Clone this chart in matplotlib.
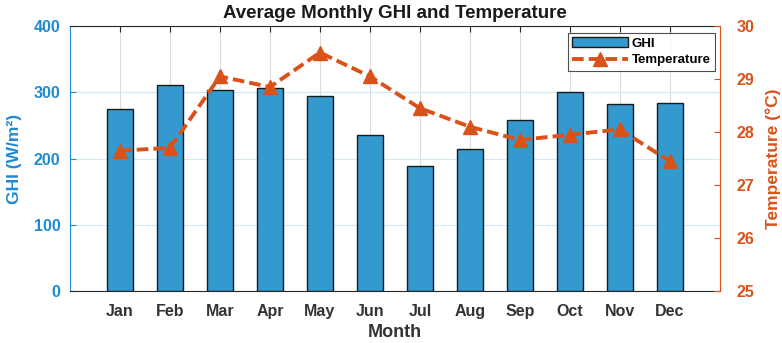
import matplotlib
matplotlib.use("Agg")
import matplotlib.pyplot as plt
import numpy as np

months = ["Jan", "Feb", "Mar", "Apr", "May", "Jun", "Jul", "Aug", "Sep", "Oct", "Nov", "Dec"]
ghi = [275, 311, 304, 307, 294, 236, 188, 215, 258, 300, 282, 284]
temperature = [27.65, 27.7, 29.05, 28.85, 29.5, 29.05, 28.45, 28.1, 27.85, 27.95, 28.05, 27.45]

plt.rcParams['font.family'] = ['Liberation Sans', 'DejaVu Sans']
plt.rcParams['font.weight'] = 'bold'

blue_axis = '#1F8AD2'
bar_color = '#3399CF'
orange = '#D95319'
dark = '#262626'

fig = plt.figure(figsize=(7.82, 3.43), dpi=100)
ax = fig.add_axes([0.0895, 0.1516, 0.831, 0.7724])
x = np.arange(1, len(months) + 1)

ax.bar(x, ghi, width=0.52, color=bar_color, edgecolor='#1a1a1a', linewidth=1.0, label='GHI', zorder=3)
ax.set_xlim(0, 13)
ax.set_ylim(0, 400)
ax.set_yticks([0, 100, 200, 300, 400])
ax.set_xticks(x)
ax.set_xticklabels(months)
ax.set_axisbelow(True)
ax.xaxis.grid(True, color='#dcdcdc', linewidth=0.8, zorder=0)
ax.yaxis.grid(True, color='#d3e8f6', linewidth=0.8, zorder=0)

ax.tick_params(axis='x', direction='in', top=True, length=4, colors=dark, labelsize=11.5, pad=9)
ax.tick_params(axis='y', direction='in', length=4, colors=blue_axis, labelsize=11.5, pad=7)
for lbl in ax.get_xticklabels():
    lbl.set_color('#333333')
ax.spines['left'].set_color(blue_axis)
ax.spines['bottom'].set_color(dark)
ax.spines['top'].set_color(dark)
ax.spines['right'].set_visible(False)
for s in ax.spines.values():
    s.set_linewidth(0.8)

ax.set_xlabel('Month', fontsize=13, fontweight='bold', color='#333333', labelpad=4)
ax.set_ylabel('GHI (W/m²)', fontsize=12.5, fontweight='bold', color=blue_axis, labelpad=8)
ax.set_title('Average Monthly GHI and Temperature', fontsize=13.5, fontweight='bold', color='#1a1a1a', pad=6)

ax2 = ax.twinx()
ln, = ax2.plot(x, temperature, color=orange, linestyle=(0, (3.0, 1.3)), linewidth=2.8,
               marker='^', markersize=10.5, markerfacecolor=orange, markeredgecolor=orange,
               label='Temperature', zorder=4)
ax2.set_ylim(25, 30)
ax2.set_yticks([25, 26, 27, 28, 29, 30])
ax2.tick_params(axis='y', direction='in', length=4, colors=orange, labelsize=11.5, pad=12)
ax2.spines['right'].set_color(orange)
ax2.spines['right'].set_linewidth(0.8)
for k in ['left', 'top', 'bottom']:
    ax2.spines[k].set_visible(False)
ax2.set_ylabel('Temperature (°C)', fontsize=12.5, fontweight='bold', color=orange, labelpad=8)

h1, l1 = ax.get_legend_handles_labels()
h2, l2 = ax2.get_legend_handles_labels()
leg = ax2.legend(h1 + h2, l1 + l2, loc='upper right', bbox_to_anchor=(0.997, 0.985),
                 fontsize=9.5, frameon=True, fancybox=False, edgecolor='#222222',
                 handlelength=4.2, borderpad=0.35, labelspacing=0.35, handletextpad=0.3,
                 borderaxespad=0.2)
leg.get_frame().set_linewidth(0.8)

fig.savefig('out.png', dpi=100)
